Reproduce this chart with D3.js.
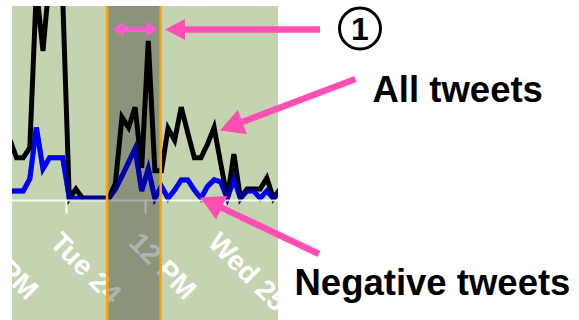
<!DOCTYPE html>
<html><head><meta charset="utf-8">
<script src="https://cdn.jsdelivr.net/npm/d3@7"></script>
<style>html,body{margin:0;padding:0;background:#fff;} svg{display:block;}</style>
</head><body>
<svg id="chart" width="579" height="320"></svg>
<script>
// ---- data (hourly bins, value plotted at bin centre) ----
const hours = [
  "2013-09-23T15:00","2013-09-23T16:00","2013-09-23T17:00","2013-09-23T18:00","2013-09-23T19:00",
  "2013-09-23T20:00","2013-09-23T21:00","2013-09-23T22:00","2013-09-23T23:00",
  "2013-09-24T00:00","2013-09-24T01:00","2013-09-24T02:00","2013-09-24T03:00","2013-09-24T04:00",
  "2013-09-24T05:00","2013-09-24T06:00","2013-09-24T07:00","2013-09-24T08:00","2013-09-24T09:00",
  "2013-09-24T10:00","2013-09-24T11:00","2013-09-24T12:00","2013-09-24T13:00","2013-09-24T14:00",
  "2013-09-24T15:00","2013-09-24T16:00","2013-09-24T17:00","2013-09-24T18:00","2013-09-24T19:00",
  "2013-09-24T20:00","2013-09-24T21:00","2013-09-24T22:00","2013-09-24T23:00",
  "2013-09-25T00:00","2013-09-25T01:00","2013-09-25T02:00","2013-09-25T03:00","2013-09-25T04:00",
  "2013-09-25T05:00","2013-09-25T06:00","2013-09-25T07:00","2013-09-25T08:00"
];
const allTweets = [
  6.3, 4.4, 4.4, 5.5, 22.8, 16.0, 24.0, 23.6, 21.8,
  0, 1.0, 0, 0, 0, 0, 0, 1.6, 8.8, 7.7, 9.9, 3.3, 17.1, 3.0, 3.0,
  7.6, 6.3, 9.9, 7.1, 4.4, 4.4, 5.9, 7.7, 3.8,
  0, 4.8, 0, 1.0, 1.0, 1.0, 2.2, 0, 1.0
];
const negativeTweets = [
  0.8, 0.8, 0.8, 2.1, 7.7, 3.2, 4.4, 4.4, 4.4,
  0, 0, 0, 0, 0, 0, 0, 1.0, 2.4, 3.9, 5.4, 0.8, 3.2, 0, 1.3,
  0, 0.9, 2.0, 2.0, 0.9, 0, 1.3, 2.0, 1.8,
  0, 2.1, 0, 0.8, 0.8, 0, 0.8, 0, 0.8
];
const tickTimes = ["2013-09-23T12:00","2013-09-24T00:00","2013-09-24T12:00","2013-09-25T00:00","2013-09-25T12:00"];
const tickLabels = ["12 PM","Tue 24","12 PM","Wed 25","12 PM"];
const selection = ["2013-09-24T06:14","2013-09-24T14:23"];
const labelAll = "All tweets";
const labelNeg = "Negative tweets";
const labelMarker = "1";

// ---- setup ----
const parse = d3.timeParse("%Y-%m-%dT%H:%M");
const times = hours.map(parse);
const svg = d3.select("#chart");
const panel = {x: 12, y: 6, w: 266, h: 314};
const baseY = 200.5;

const x = d3.scaleTime()
  .domain([parse("2013-09-24T00:00"), parse("2013-09-25T00:00")])
  .range([66, 224]);
const y = d3.scaleLinear().domain([0, 20]).range([198.3, 14.3]);
const xc = t => x(d3.timeMinute.offset(t, 30));

svg.append("rect").attr("width", 579).attr("height", 320).attr("fill", "#fff");
svg.append("defs").append("clipPath").attr("id", "clip")
  .append("rect").attr("x", panel.x).attr("y", panel.y).attr("width", panel.w).attr("height", panel.h);

svg.append("rect").attr("x", panel.x).attr("y", panel.y).attr("width", panel.w).attr("height", panel.h)
  .attr("fill", "#c5d4b0");

const plot = svg.append("g").attr("clip-path", "url(#clip)");

const line = d3.line().x((d, i) => xc(times[i])).y(d => y(d));
plot.append("path").datum(negativeTweets).attr("d", line)
  .attr("fill", "none").attr("stroke", "#0000f5").attr("stroke-width", 5).attr("stroke-linejoin", "miter");
plot.append("path").datum(allTweets).attr("d", line)
  .attr("fill", "none").attr("stroke", "#000").attr("stroke-width", 5).attr("stroke-linejoin", "miter");
plot.append("path").datum(negativeTweets).attr("d", line)
  .attr("fill", "none").attr("stroke", "#0000f5").attr("stroke-width", 5).attr("stroke-linejoin", "miter")
  .attr("opacity", 0.55);

// baseline
plot.append("line").attr("x1", panel.x).attr("x2", panel.x + panel.w)
  .attr("y1", baseY).attr("y2", baseY).attr("stroke", "#fff").attr("stroke-width", 2.2).attr("opacity", 0.85);

// axis
const axis = d3.axisBottom(x)
  .tickValues(tickTimes.map(parse))
  .tickFormat((d, i) => tickLabels[i])
  .tickSize(13);
const ag = plot.append("g").attr("transform", `translate(0,${baseY})`).call(axis);
ag.select(".domain").remove();
ag.selectAll(".tick line").attr("stroke", "#fff").attr("stroke-width", 2);
ag.selectAll(".tick text")
  .attr("x", 0).attr("y", 0).attr("dy", 0)
  .attr("text-anchor", "start")
  .attr("transform", `translate(-18,${244 - baseY}) rotate(45)`)
  .attr("fill", "#fff")
  .style("font-family", "'Liberation Sans', Arial, sans-serif")
  .style("font-size", "28px").style("font-weight", "bold");

// selection band overlay
const s0 = x(parse(selection[0])), s1 = x(parse(selection[1]));
plot.append("rect").attr("x", s0).attr("y", panel.y).attr("width", s1 - s0).attr("height", panel.h)
  .attr("fill", "#000").attr("opacity", 0.3);
[s0, s1].forEach(sx => {
  plot.append("line").attr("x1", sx).attr("x2", sx).attr("y1", panel.y).attr("y2", panel.y + panel.h)
    .attr("stroke", "#ffa500").attr("stroke-width", 2.6);
});

// ---- annotations ----
const ann = svg.append("g");
function arrow(x1, y1, x2, y2, sw, hl, hw, color) {
  const dx = x2 - x1, dy = y2 - y1, len = Math.hypot(dx, dy);
  const ux = dx / len, uy = dy / len, px = -uy, py = ux;
  const bx = x2 - ux * hl, by = y2 - uy * hl;
  ann.append("line").attr("x1", x1).attr("y1", y1).attr("x2", bx + ux).attr("y2", by + uy)
    .attr("stroke", color).attr("stroke-width", sw);
  ann.append("path").attr("d", `M${x2},${y2}L${bx + px * hw},${by + py * hw}L${bx - px * hw},${by - py * hw}Z`)
    .attr("fill", color);
}
const pink = "#ff4fb2";
arrow(320, 29.5, 165, 29.5, 6.5, 20, 10.5, pink);
arrow(355.5, 79, 220, 130.5, 6.5, 24, 13, pink);
arrow(319, 254, 200, 197.5, 6.5, 24, 13, pink);

// double arrow over the selection
const dpink = "#ff5ccf";
const dl = 112.7, dr = 157.3, dy0 = 29.3, dh = 11, dw = 7.5;
ann.append("line").attr("x1", dl + dh - 1).attr("x2", dr - dh + 1).attr("y1", dy0).attr("y2", dy0)
  .attr("stroke", dpink).attr("stroke-width", 5);
ann.append("path").attr("d", `M${dl},${dy0}L${dl + dh},${dy0 - dw}L${dl + dh},${dy0 + dw}Z`).attr("fill", dpink);
ann.append("path").attr("d", `M${dr},${dy0}L${dr - dh},${dy0 - dw}L${dr - dh},${dy0 + dw}Z`).attr("fill", dpink);

// circled marker
ann.append("circle").attr("cx", 360).attr("cy", 28.5).attr("r", 20.5)
  .attr("fill", "none").attr("stroke", "#000").attr("stroke-width", 3);
ann.append("text").attr("x", 360).attr("y", 40).attr("text-anchor", "middle")
  .style("font-family", "'Liberation Sans', Arial, sans-serif").style("font-size", "32px").style("font-weight", "bold")
  .text(labelMarker);

ann.append("text").attr("x", 372.5).attr("y", 101.5)
  .style("font-family", "'Liberation Sans', Arial, sans-serif").style("font-size", "36.5px").style("font-weight", "bold")
  .text(labelAll);
ann.append("text").attr("x", 294.5).attr("y", 295)
  .style("font-family", "'Liberation Sans', Arial, sans-serif").style("font-size", "36.5px").style("font-weight", "bold")
  .text(labelNeg);
</script>
</body></html>
